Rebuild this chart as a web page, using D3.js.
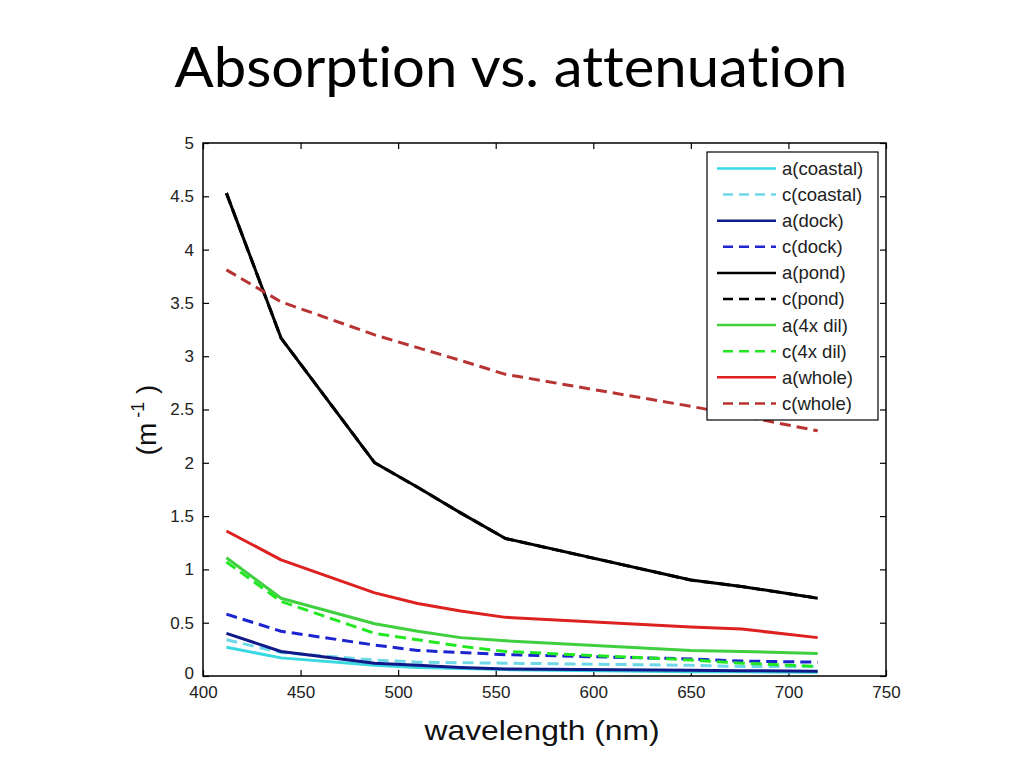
<!DOCTYPE html>
<html><head><meta charset="utf-8">
<script src="https://cdn.jsdelivr.net/npm/d3@7"></script>
<style>body{margin:0;background:#fff;}svg{display:block;}</style>
</head><body>
<script>
const wavelengths = [412, 440, 488, 510, 532, 555, 650, 676, 715];
const aCoastal = [0.27, 0.17, 0.10, 0.08, 0.07, 0.06, 0.04, 0.04, 0.035];
const cCoastal = [0.34, 0.22, 0.15, 0.13, 0.125, 0.12, 0.10, 0.09, 0.09];
const aDock    = [0.40, 0.23, 0.12, 0.10, 0.08, 0.065, 0.055, 0.05, 0.045];
const cDock    = [0.58, 0.42, 0.29, 0.24, 0.22, 0.20, 0.16, 0.14, 0.13];
const aPond    = [4.53, 3.17, 2.00, 1.77, 1.53, 1.29, 0.90, 0.84, 0.73];
const cPond    = [4.53, 3.17, 2.00, 1.77, 1.53, 1.29, 0.90, 0.84, 0.73];
const a4x      = [1.11, 0.73, 0.49, 0.42, 0.36, 0.33, 0.24, 0.23, 0.21];
const c4x      = [1.07, 0.70, 0.40, 0.34, 0.28, 0.23, 0.15, 0.12, 0.09];
const aWhole   = [1.36, 1.09, 0.78, 0.68, 0.61, 0.55, 0.46, 0.44, 0.36];
const cWhole   = [3.81, 3.51, 3.20, 3.08, 2.96, 2.83, 2.53, 2.44, 2.30];
const seriesNames = ["a(coastal)","c(coastal)","a(dock)","c(dock)","a(pond)","c(pond)","a(4x dil)","c(4x dil)","a(whole)","c(whole)"];
const seriesData = [aCoastal,cCoastal,aDock,cDock,aPond,cPond,a4x,c4x,aWhole,cWhole];
const seriesColors = ["#3ad8e0","#6fd8e8","#10198a","#1c24d0","#000000","#000000","#3fcf3f","#22e822","#dd2020","#b83434"];
const seriesDashed = [false,true,false,true,false,true,false,true,false,true];
const xTicks = [400,450,500,550,600,650,700,750];
const yTicks = [0,0.5,1,1.5,2,2.5,3,3.5,4,4.5,5];

const W=1024,H=768;
const svg=d3.select("body").append("svg").attr("width",W).attr("height",H);

svg.append("text").attr("x",511).attr("y",87).attr("text-anchor","middle")
  .attr("font-family","Lato, 'Open Sans', sans-serif").attr("font-size",57).attr("fill","#000")
  .style("font-variant-ligatures","none")
  .attr("textLength",673).attr("lengthAdjust","spacingAndGlyphs")
  .text("Absorption vs. attenuation");

const L=203,R=886,T=143,B=676;
const x=d3.scaleLinear().domain([400,750]).range([L,R]);
const y=d3.scaleLinear().domain([0,5]).range([B,T]);

svg.append("rect").attr("x",L).attr("y",T).attr("width",R-L).attr("height",B-T)
  .attr("fill","#fff").attr("stroke","#000").attr("stroke-width",1.5);

const font="Arial, 'Liberation Sans', sans-serif";
const gx=svg.append("g").attr("transform",`translate(0,${B})`)
  .call(d3.axisBottom(x).tickValues(xTicks).tickSizeInner(-6).tickSizeOuter(0).tickPadding(12).tickFormat(d3.format("d")));
const gxt=svg.append("g").attr("transform",`translate(0,${T})`)
  .call(d3.axisTop(x).tickValues(xTicks).tickSizeInner(-6).tickSizeOuter(0).tickFormat(""));
const gy=svg.append("g").attr("transform",`translate(${L},0)`)
  .call(d3.axisLeft(y).tickValues(yTicks).tickSizeInner(-6).tickSizeOuter(0).tickPadding(9).tickFormat(d=>String(d)));
const gyr=svg.append("g").attr("transform",`translate(${R},0)`)
  .call(d3.axisRight(y).tickValues(yTicks).tickSizeInner(-6).tickSizeOuter(0).tickFormat(""));
[gx,gxt,gy,gyr].forEach(g=>{
  g.select(".domain").remove();
  g.selectAll("line").attr("stroke","#000").attr("stroke-width",1.2);
  g.selectAll("text").attr("font-family",font).attr("font-size",17).attr("fill","#222");
});
gx.selectAll("text").attr("dy","0.6em");
gy.selectAll("text").filter(d=>d===0).attr("dy","0.12em");

const line=d3.line().x((d,i)=>x(wavelengths[i])).y(d=>y(d));
const plotG=svg.append("g");
seriesData.forEach((s,i)=>{
  plotG.append("path").datum(s).attr("d",line)
    .attr("fill","none").attr("stroke",seriesColors[i]).attr("stroke-width",3)
    .attr("stroke-linejoin","round")
    .attr("stroke-dasharray",seriesDashed[i]?"11,6":null);
});

const lg=svg.append("g");
lg.append("rect").attr("x",707).attr("y",152).attr("width",171).attr("height",268)
  .attr("fill","#fff").attr("stroke","#000").attr("stroke-width",1.2);
seriesNames.forEach((n,i)=>{
  const yy=168.5+i*26.1;
  lg.append("line").attr("x1",717).attr("x2",776).attr("y1",yy).attr("y2",yy)
    .attr("stroke",seriesColors[i]).attr("stroke-width",2.5)
    .attr("stroke-dasharray",seriesDashed[i]?"10,6":null)
    .attr("stroke-dashoffset",seriesDashed[i]?-6:0);
  lg.append("text").attr("x",782).attr("y",yy).attr("dy","0.35em")
    .attr("font-family",font).attr("font-size",18.5).attr("fill","#222").text(n);
});

svg.append("text").attr("x",542).attr("y",740).attr("text-anchor","middle")
  .attr("font-family",font).attr("font-size",28).attr("fill","#111")
  .attr("textLength",235).attr("lengthAdjust","spacingAndGlyphs").text("wavelength (nm)");
const yl=svg.append("text").attr("transform","translate(156,420) rotate(-90)").attr("text-anchor","middle")
  .attr("font-family",font).attr("font-size",28).attr("fill","#111");
yl.append("tspan").text("(m");
yl.append("tspan").attr("font-size",18).attr("dy",-12).text(" -1");
yl.append("tspan").attr("dy",12).text("  )");
</script>
</body></html>
